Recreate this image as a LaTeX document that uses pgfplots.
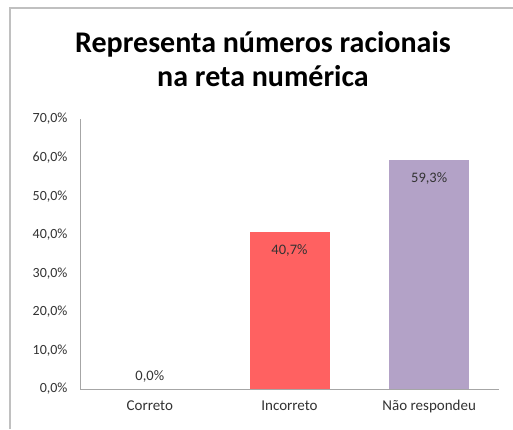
\documentclass[border=0pt]{standalone}
\usepackage{fontspec}
\setmainfont{Carlito}
\usepackage{pgfplots}
\pgfplotsset{compat=1.18}
\definecolor{barred}{HTML}{FF6161}
\definecolor{barpurple}{HTML}{B3A2C7}
\definecolor{axgray}{HTML}{A6A6A6}
\definecolor{framegray}{HTML}{C0C0C0}
\definecolor{txt}{HTML}{333333}
\begin{document}
\begin{tikzpicture}[x=1pt,y=1pt]
\useasboundingbox (0,0) rectangle (513,429);
\fill[white] (0,0) rectangle (513,429);
\draw[framegray, line width=1.6pt] (10,0) -- (10,421) -- (513,421);
\node[font=\bfseries\fontsize{30}{34}\selectfont, anchor=base] at (263,376.5) {Representa números racionais};
\node[font=\bfseries\fontsize{30}{34}\selectfont, anchor=base] at (263,342) {na reta numérica};
\begin{axis}[
  at={(80pt,40pt)}, anchor=south west,
  scale only axis, width=419pt, height=270pt,
  xmin=-0.5, xmax=2.5, ymin=0, ymax=70,
  axis x line*=bottom, axis y line*=left,
  axis line style={axgray, line width=0.9pt, -},
  xtick={0,1,2}, xticklabels={Correto,Incorreto,Não respondeu},
  ytick={0,10,...,70},
  major tick length=0pt,
  /pgf/number format/assume math mode=true,
  yticklabel={\pgfmathprintnumber[fixed,fixed zerofill,precision=1,use comma]{\tick}\%},
  yticklabel style={font=\fontsize{14}{16}\selectfont, text=txt, xshift=-9pt},
  xticklabel style={font=\fontsize{15}{17}\selectfont, text=txt, yshift=-8pt},
  ybar, bar width=80pt, bar shift=0pt,
  clip=false,
  nodes near coords={\pgfmathprintnumber[fixed,fixed zerofill,precision=1,use comma]{\pgfplotspointmeta}\%},
  nodes near coords style={font=\fontsize{14.5}{16}\selectfont, text=txt, anchor=north, yshift=-9pt},
]
\addplot[fill=barred, draw=none] coordinates {(1,40.7)};
\addplot[fill=barpurple, draw=none] coordinates {(2,59.3)};
\addplot[fill=none, draw=none, nodes near coords style={anchor=south, yshift=12pt}] coordinates {(0,0)};
\end{axis}
\end{tikzpicture}
\end{document}
